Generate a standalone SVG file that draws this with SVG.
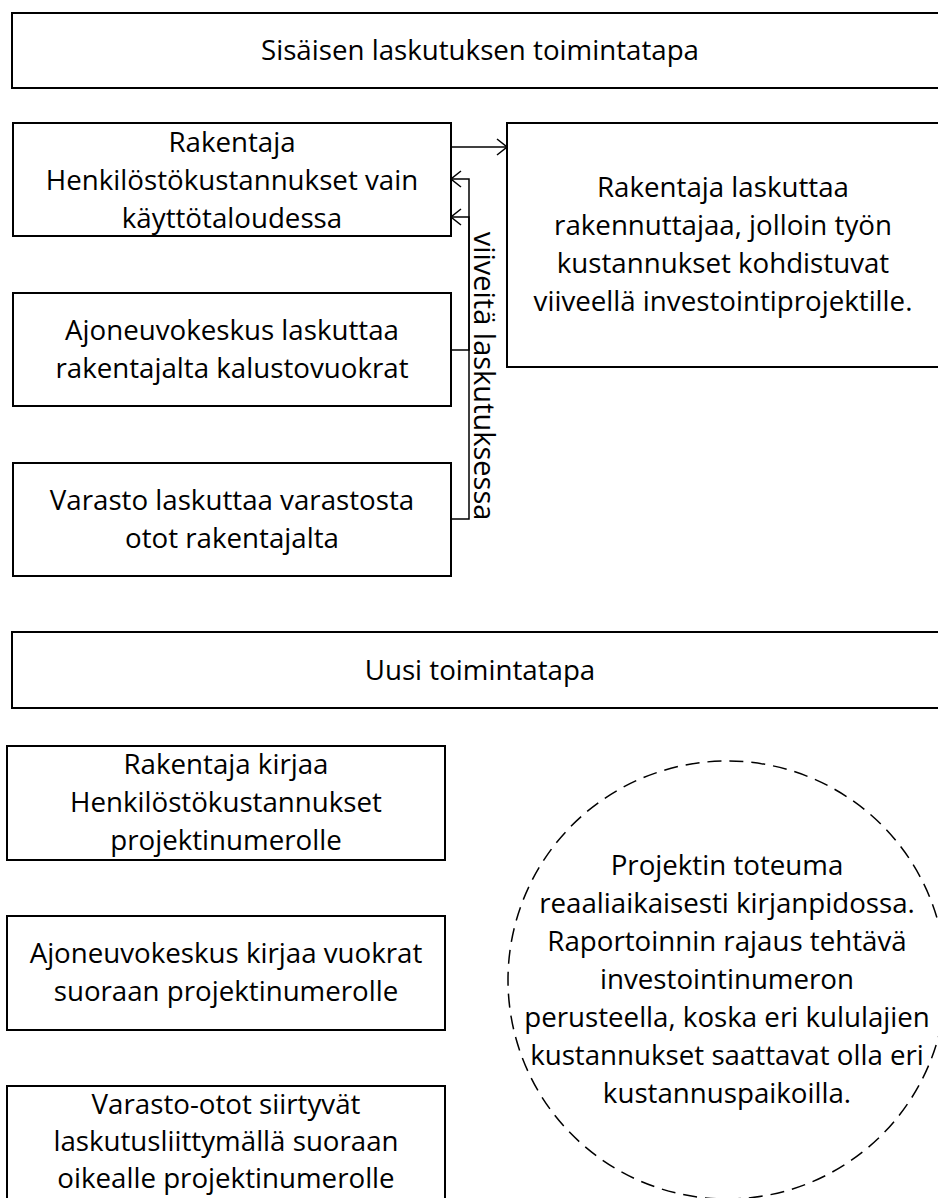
<svg xmlns="http://www.w3.org/2000/svg" width="938" height="1198" viewBox="0 0 938 1198">
<style>
  .box { fill: #fff; stroke: #000; stroke-width: 2; }
  .t { font-family: "Open Sans", "Noto Sans", sans-serif; font-size: 27.7px; fill: #000; text-anchor: middle; }
  .c { fill: none; stroke: #000; stroke-width: 1.5; }
  .dash { fill: none; stroke: #000; stroke-width: 1.5; stroke-dasharray: 14 8; }
</style>
<defs>
  <marker id="arr" viewBox="0 0 12 18" refX="11" refY="9" markerWidth="12" markerHeight="18" markerUnits="userSpaceOnUse" orient="auto">
    <path d="M1,1 L11,9 L1,17" fill="none" stroke="#000" stroke-width="1.5"/>
  </marker>
</defs>
<rect width="938" height="1198" fill="#fff"/>

<g id="title1">
  <rect class="box" x="12" y="13" width="936" height="75"/>
  <text class="t" x="480" y="60">Sisäisen laskutuksen toimintatapa</text>
</g>

<g id="rakentaja">
  <rect class="box" x="13" y="123" width="438" height="113"/>
  <text class="t" x="232" y="152">Rakentaja</text>
  <text class="t" x="232" y="190">Henkilöstökustannukset vain</text>
  <text class="t" x="232" y="228">käyttötaloudessa</text>
</g>

<g id="rakentaja-laskuttaa">
  <rect class="box" x="507" y="123" width="434" height="244"/>
  <text class="t" x="723" y="197">Rakentaja laskuttaa</text>
  <text class="t" x="723" y="235">rakennuttajaa, jolloin työn</text>
  <text class="t" x="723" y="273">kustannukset kohdistuvat</text>
  <text class="t" x="723" y="311">viiveellä investointiprojektille.</text>
</g>

<g id="ajoneuvokeskus">
  <rect class="box" x="13" y="293" width="438" height="113"/>
  <text class="t" x="232" y="340">Ajoneuvokeskus laskuttaa</text>
  <text class="t" x="232" y="378">rakentajalta kalustovuokrat</text>
</g>

<g id="varasto">
  <rect class="box" x="13" y="463" width="438" height="113"/>
  <text class="t" x="232" y="510">Varasto laskuttaa varastosta</text>
  <text class="t" x="232" y="548">otot rakentajalta</text>
</g>

<g id="title2">
  <rect class="box" x="12" y="632" width="936" height="76"/>
  <text class="t" x="480" y="680">Uusi toimintatapa</text>
</g>

<g id="uusi-rakentaja">
  <rect class="box" x="7" y="746" width="438" height="114"/>
  <text class="t" x="226" y="774">Rakentaja kirjaa</text>
  <text class="t" x="226" y="812">Henkilöstökustannukset</text>
  <text class="t" x="226" y="850">projektinumerolle</text>
</g>

<g id="uusi-ajoneuvokeskus">
  <rect class="box" x="7" y="916" width="438" height="114"/>
  <text class="t" x="226" y="963">Ajoneuvokeskus kirjaa vuokrat</text>
  <text class="t" x="226" y="1001">suoraan projektinumerolle</text>
</g>

<g id="uusi-varasto">
  <rect class="box" x="7" y="1086" width="438" height="120"/>
  <text class="t" x="226" y="1114">Varasto-otot siirtyvät</text>
  <text class="t" x="226" y="1151">laskutusliittymällä suoraan</text>
  <text class="t" x="226" y="1188">oikealle projektinumerolle</text>
</g>

<g id="toteuma">
  <circle class="dash" cx="727" cy="980" r="219"/>
  <text class="t" x="727" y="875">Projektin toteuma</text>
  <text class="t" x="727" y="913">reaaliaikaisesti kirjanpidossa.</text>
  <text class="t" x="727" y="951">Raportoinnin rajaus tehtävä</text>
  <text class="t" x="727" y="989">investointinumeron</text>
  <text class="t" x="727" y="1027">perusteella, koska eri kululajien</text>
  <text class="t" x="727" y="1065">kustannukset saattavat olla eri</text>
  <text class="t" x="727" y="1103">kustannuspaikoilla.</text>
</g>

<g id="connectors">
  <line class="c" x1="451" y1="147" x2="507" y2="147" marker-end="url(#arr)"/>
  <polyline class="c" points="451,350 469,350 469,179 451,179" marker-end="url(#arr)"/>
  <polyline class="c" points="451,519 469,519 469,217 451,217" marker-end="url(#arr)"/>
  <text class="t" style="font-size:29px" transform="translate(474,376) rotate(90)" x="0" y="0">viiveitä laskutuksessa</text>
</g>
</svg>
